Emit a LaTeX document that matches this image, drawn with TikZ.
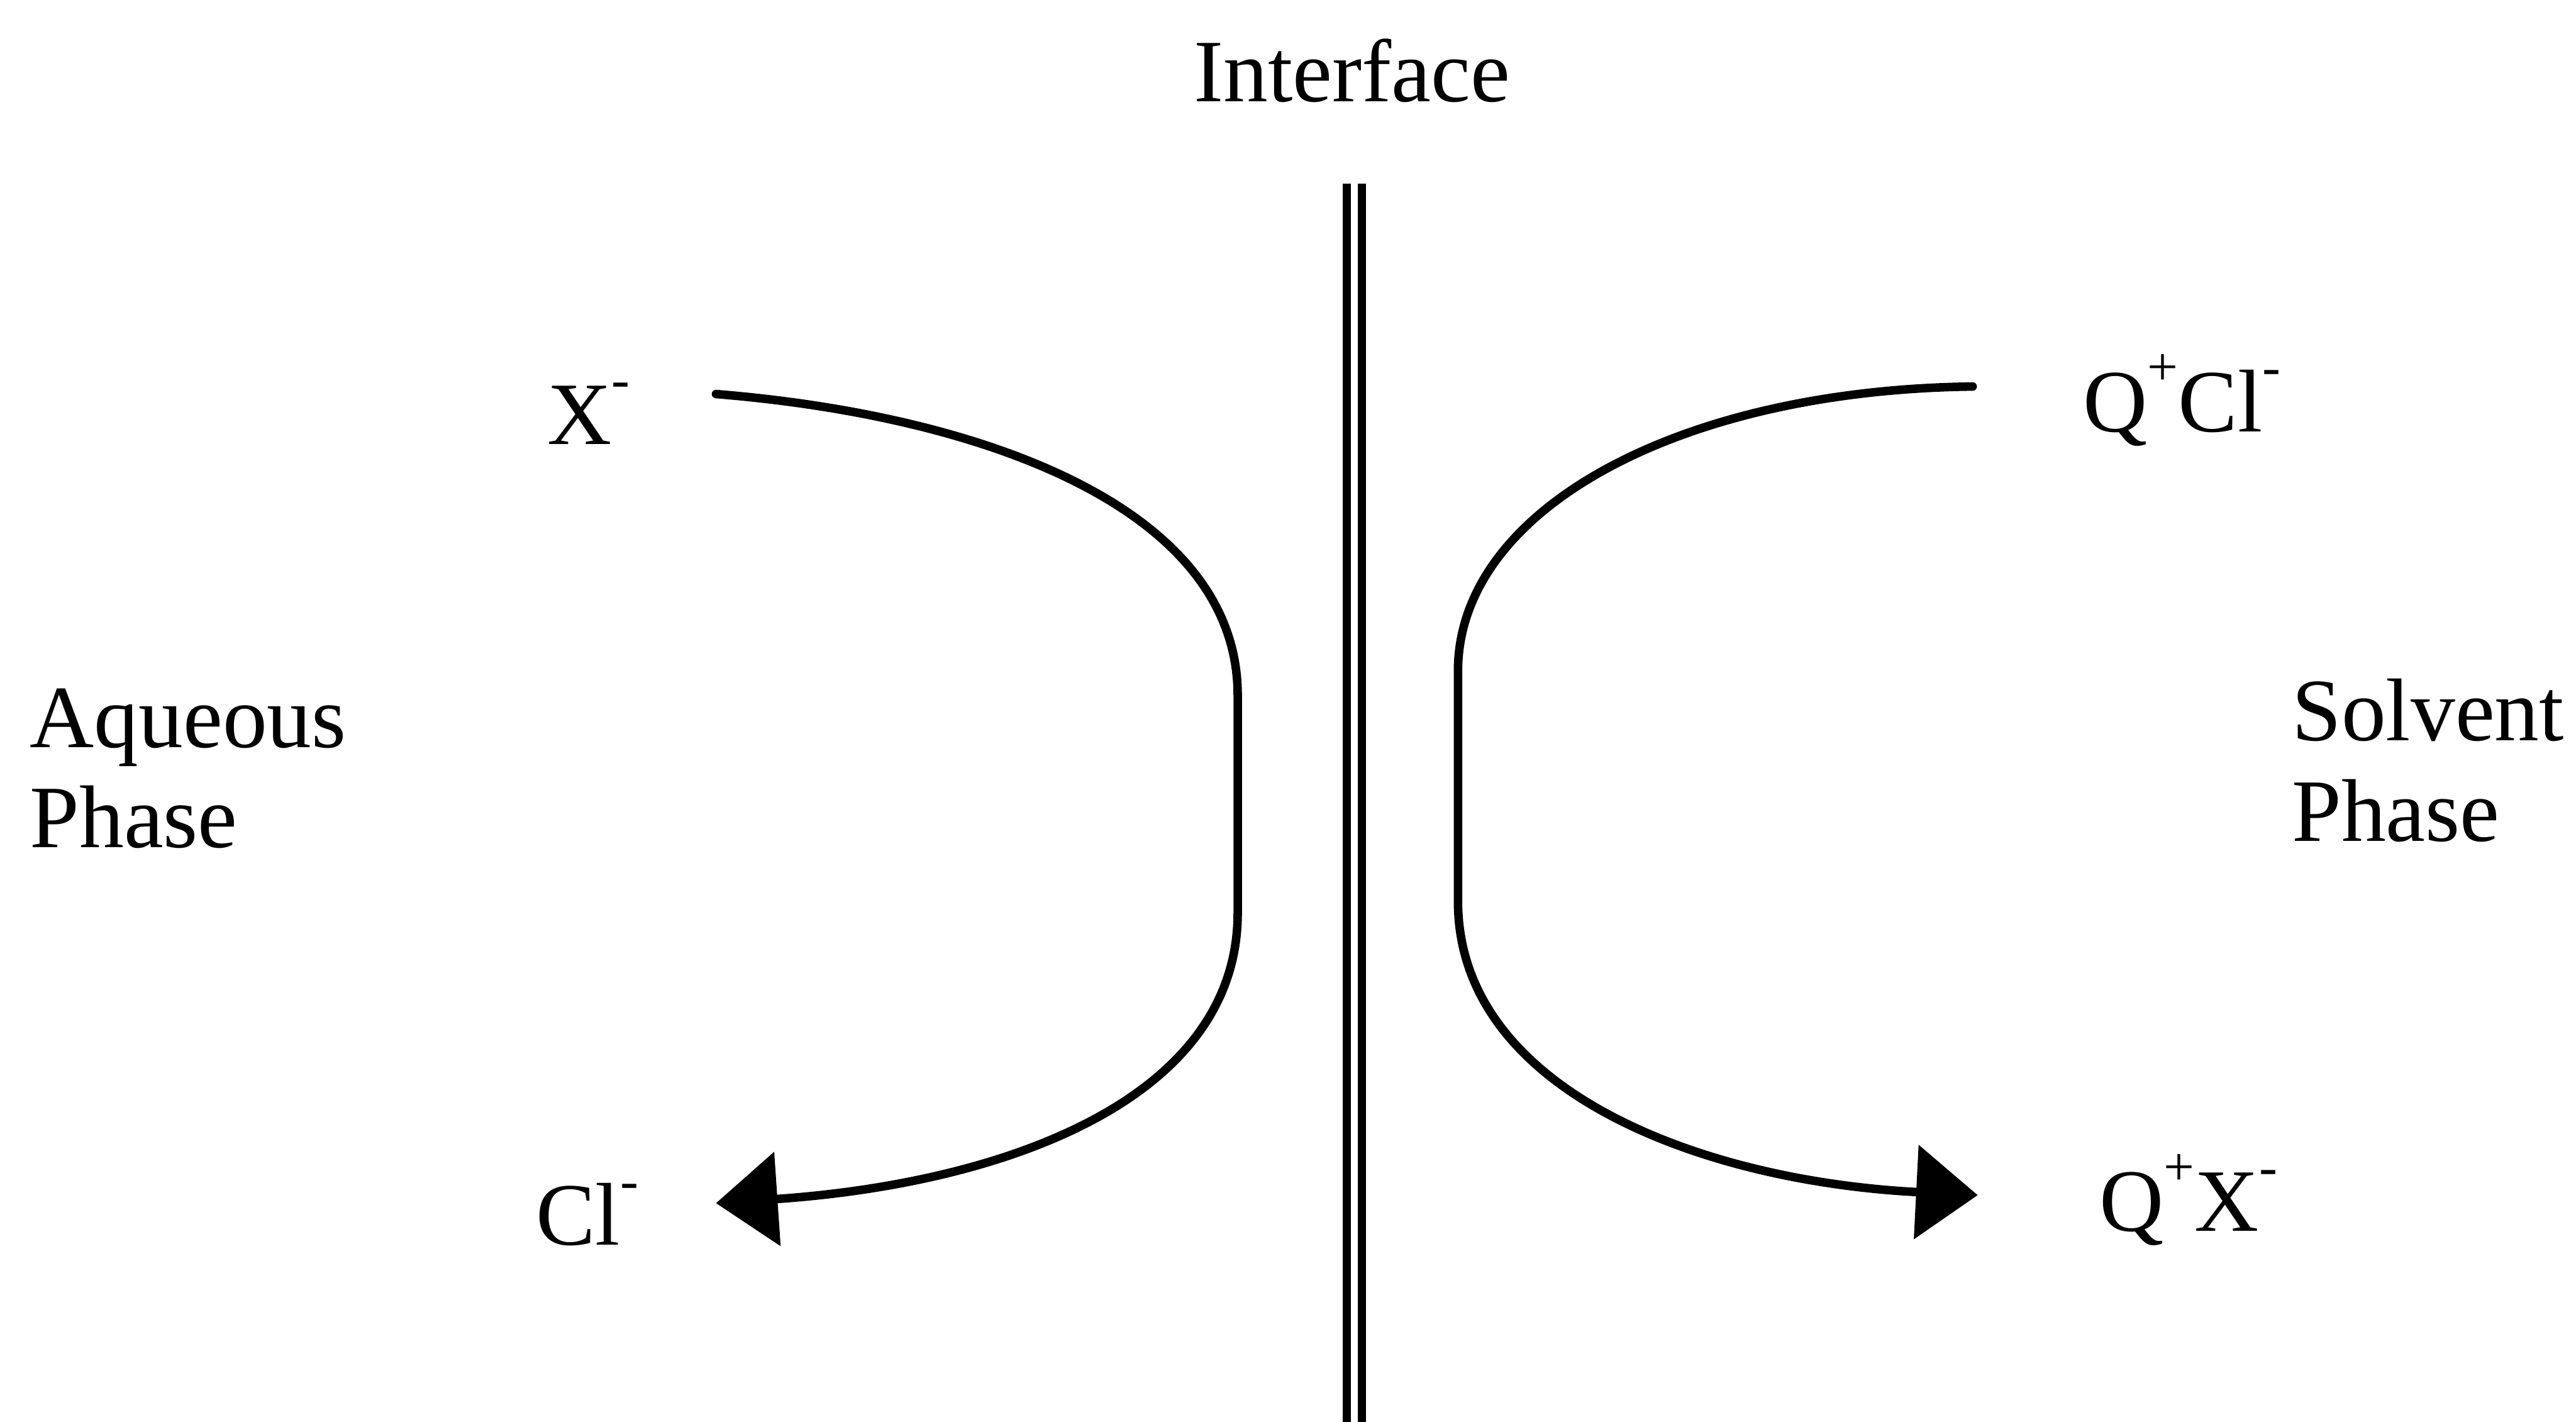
\documentclass[tikz,border=0pt]{standalone}
\usepackage{fontspec}
\setmainfont{Liberation Serif}
\usetikzlibrary{arrows.meta}
\newcommand{\ionsup}[1]{\raisebox{0.52em}{\fontsize{31}{31}\selectfont #1}}

\begin{document}
\begin{tikzpicture}[
    lbl/.style={font=\fontsize{50.6}{57}\selectfont, inner sep=0pt},
    flow/.style={line width=0.17cm, line cap=round, -{Triangle[length=1.23cm,width=1.85cm]}},
    wall/.style={line width=0.16cm}]
\useasboundingbox (0,0) rectangle (51.45,28.39);

% Interface
\node[lbl, anchor=base] (iface) at (27.0,26.36) {Interface};
\draw[wall] (26.9,24.72) -- (26.9,-0.2);
\draw[wall] (27.2,24.72) -- (27.2,-0.2);

% Phases
\node[lbl, anchor=base west, align=left] (aq) at (0.59,11.46) {Aqueous\\[0pt]Phase};
\node[lbl, anchor=base west, align=left] (solv) at (45.77,11.59) {Solvent\\[0pt]Phase};

% Ions
\node[lbl, anchor=base west] (xin) at (10.93,19.52) {X\ionsup{-}};
\node[lbl, anchor=base west] (clout) at (10.70,3.52) {Cl\ionsup{-}};
\node[lbl, anchor=base west] (qcl) at (41.60,19.77) {Q\ionsup{+}Cl\ionsup{-}};
\node[lbl, anchor=base west] (qx) at (41.93,3.80) {Q\ionsup{+}X\ionsup{-}};

% Exchange arrows
\coordinate (lstart) at (14.30,20.52);
\coordinate (lend) at (14.30,4.36);
\coordinate (rstart) at (39.40,20.67);
\coordinate (rend) at (39.50,4.52);
\draw[flow] (lstart) .. controls +(5.2,-0.42) and +(0,3.8) .. (24.72,14.50)
    -- (24.72,10.16) .. controls +(0,-3.76) and +(5.7,0.39) .. (lend);
\draw[flow] (rstart) .. controls +(-5.9,-0.07) and +(0,3.21) .. (29.12,14.99)
    -- (29.12,10.39) .. controls +(0,-3.79) and +(-5.5,0.28) .. (rend);
\end{tikzpicture}
\end{document}
